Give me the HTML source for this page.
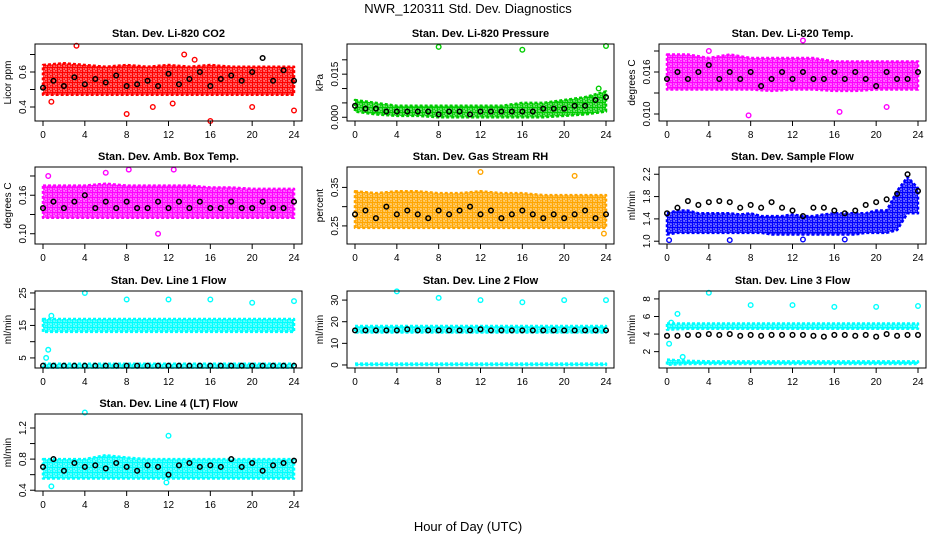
<!DOCTYPE html>
<html><head><meta charset="utf-8"><style>
body{margin:0;background:#fff}
svg{display:block;font-family:"Liberation Sans",sans-serif}
</style></head><body>
<svg id="c" width="936" height="540" viewBox="0 0 936 540">
<defs id="defs"></defs>
<text x="468" y="13" text-anchor="middle" font-size="13">NWR_120311  Std. Dev. Diagnostics</text>
<text x="468" y="531" text-anchor="middle" font-size="13">Hour of Day (UTC)</text>
</svg>
<script>
const xTicks=[0,4,8,12,16,20,24];
// CO2
const co2Lo=[0.47,0.47,0.47,0.47,0.47,0.47,0.47,0.47,0.47,0.47,0.47,0.47,0.47];
const co2Hi=[0.64,0.65,0.64,0.63,0.64,0.63,0.64,0.63,0.64,0.63,0.63,0.63,0.63];
const co2Black=[0.51,0.55,0.52,0.57,0.53,0.56,0.54,0.58,0.52,0.53,0.55,0.52,0.59,0.53,0.56,0.6,0.52,0.56,0.58,0.55,0.6,0.68,0.55,0.61,0.55];
const co2Out=[[3.2,0.75],[0.8,0.43],[8,0.36],[16,0.32],[24,0.38],[13.5,0.7],[10.5,0.4],[20,0.4],[12.4,0.42],[14.5,0.67]];
// Pressure
const prLo=[0.002,0.001,0.0005,0.0005,0,0,0,0,0,0,0.0005,0.001,0.002];
const prHi=[0.006,0.005,0.004,0.004,0.004,0.004,0.004,0.004,0.005,0.005,0.006,0.007,0.009];
const prBlack=[0.004,0.003,0.003,0.002,0.002,0.002,0.002,0.002,0.001,0.002,0.002,0.001,0.002,0.002,0.002,0.002,0.002,0.002,0.003,0.003,0.003,0.004,0.004,0.006,0.007];
const prOut=[[8,0.0245],[16,0.0235],[24,0.0248],[23.3,0.01]];
// Temp
const tLo=[0.0135,0.0135,0.0135,0.0135,0.0135,0.0133,0.0135,0.0135,0.0133,0.0133,0.0135,0.0135,0.0135];
const tHi=[0.0185,0.0185,0.018,0.0185,0.018,0.018,0.018,0.018,0.0175,0.0175,0.0175,0.0175,0.0175];
const tBlack=[0.015,0.016,0.015,0.016,0.017,0.015,0.016,0.015,0.016,0.014,0.015,0.016,0.015,0.016,0.015,0.015,0.016,0.015,0.016,0.015,0.014,0.016,0.015,0.015,0.016];
const tOut=[[13,0.0205],[7.8,0.0098],[16.5,0.0103],[21,0.011],[4,0.019]];
// Amb box
const aLo=[0.125,0.125,0.125,0.125,0.125,0.125,0.125,0.125,0.125,0.125,0.125,0.125,0.125];
const aHi=[0.175,0.175,0.175,0.178,0.175,0.175,0.175,0.175,0.172,0.172,0.17,0.17,0.17];
const aBlack=[0.14,0.15,0.14,0.15,0.16,0.14,0.15,0.14,0.15,0.14,0.14,0.15,0.14,0.15,0.14,0.15,0.14,0.14,0.15,0.14,0.14,0.15,0.14,0.14,0.15];
const aOut=[[12.5,0.2],[8.2,0.2],[6,0.195],[11,0.1],[0.5,0.19]];
// RH
const rhLo=[0.245,0.245,0.245,0.245,0.245,0.245,0.245,0.245,0.245,0.245,0.245,0.245,0.245];
const rhHi=[0.34,0.335,0.34,0.34,0.335,0.335,0.34,0.335,0.335,0.33,0.33,0.33,0.33];
const rhBlack=[0.28,0.29,0.27,0.3,0.28,0.29,0.28,0.27,0.29,0.28,0.29,0.3,0.28,0.29,0.27,0.28,0.29,0.28,0.27,0.28,0.27,0.28,0.29,0.27,0.28];
const rhOut=[[12,0.39],[21,0.38],[23.8,0.23]];
// Sample flow
const sfLo=[1.12,1.15,1.15,1.15,1.15,1.15,1.15,1.15,1.15,1.15,1.12,1.12,1.12,1.12,1.12,1.12,1.12,1.12,1.12,1.15,1.15,1.15,1.2,1.5,1.5];
const sfHi=[1.5,1.55,1.55,1.5,1.5,1.5,1.5,1.48,1.5,1.45,1.45,1.45,1.48,1.45,1.45,1.48,1.5,1.5,1.5,1.5,1.55,1.55,1.9,2.15,1.95];
const sfBlack=[1.5,1.6,1.72,1.65,1.7,1.72,1.7,1.6,1.65,1.6,1.7,1.6,1.55,1.45,1.6,1.6,1.55,1.5,1.55,1.65,1.7,1.75,1.85,2.2,1.9];
const sfOut=[[0.2,1.02],[6,1.02],[13,1.03],[17,1.03]];
// Line 1
const l1LoA=[13,13,13,13,13,13,13,13,13,13,13,13,13];
const l1HiA=[17,17,17,17,17,17,17,17,17,17,17,17,17];
const l1LoB=[2,2,2,2,2,2,2,2,2,2,2,2,2];
const l1HiB=[3.2,3.2,3.2,3.2,3.2,3.2,3.2,3.2,3.2,3.2,3.2,3.2,3.2];
const l1Black=[2.6,2.6,2.6,2.6,2.6,2.6,2.6,2.6,2.6,2.6,2.6,2.6,2.6,2.6,2.6,2.6,2.6,2.6,2.6,2.6,2.6,2.6,2.6,2.6,2.6];
const l1Out=[[4,25],[8,23],[12,23],[16,23],[20,22],[24,22.5],[0.3,5],[0.5,7.5],[0.8,18]];
// Line 2
const l2LoA=[15,15,15,15,15,15,15,15,15,15,15,15,15];
const l2HiA=[18,18,18,18,18,18,18,18,18,18,18,18,18];
const l2LoB=[0,0,0,0,0,0,0,0,0,0,0,0,0];
const l2HiB=[0.6,0.6,0.6,0.6,0.6,0.6,0.6,0.6,0.6,0.6,0.6,0.6,0.6];
const l2Black=[16,16,16,16,16,16.5,16,16,16,16,16,16,16.5,16,16,16,16,16,16,16,16,16,16,16,16];
const l2Out=[[4,34],[8,31],[12,30],[16,29],[20,30],[24,30]];
// Line 3
const l3LoA=[4.5,4.6,4.6,4.6,4.6,4.6,4.6,4.6,4.6,4.6,4.6,4.6,4.6];
const l3HiA=[5.2,5.2,5.2,5.2,5.2,5.2,5.2,5.2,5.2,5.2,5.2,5.2,5.2];
const l3LoB=[0.5,0.6,0.6,0.6,0.6,0.6,0.6,0.6,0.6,0.6,0.6,0.6,0.6];
const l3HiB=[1.1,0.95,0.9,0.9,0.9,0.9,0.9,0.9,0.9,0.9,0.9,0.9,0.9];
const l3Black=[3.8,3.8,3.9,3.9,4,3.9,4,3.8,3.9,3.8,3.9,3.9,3.9,3.9,3.8,3.7,3.9,3.9,3.8,3.9,3.7,4,3.8,3.9,3.9];
const l3Out=[[4,8.7],[8,7.3],[12,7.3],[16,7.1],[20,7.1],[24,7.2],[1,6.3],[0.4,5.3],[0.2,2.9],[1.5,1.4]];
// Line 4
const l4Lo=[0.55,0.55,0.55,0.55,0.55,0.55,0.55,0.55,0.55,0.55,0.55,0.55,0.55];
const l4Hi=[0.8,0.8,0.8,0.85,0.82,0.8,0.8,0.8,0.8,0.8,0.8,0.8,0.8];
const l4Black=[0.7,0.8,0.65,0.75,0.7,0.72,0.68,0.75,0.7,0.65,0.72,0.7,0.6,0.72,0.75,0.7,0.72,0.7,0.8,0.7,0.75,0.65,0.72,0.75,0.78];
const l4Out=[[4,1.4],[12,1.1],[0.8,0.45],[11.8,0.5]];

const panels=[
 {t:"Stan. Dev. Li-820 CO2",yl:"Licor ppm",c:0,r:0,y0:0.32,y1:0.76,ticks:[0.4,0.5,0.6,0.7],labs:["0.4","","0.6",""],col:"#ff0000",bands:[[co2Lo,co2Hi]],black:co2Black,out:co2Out},
 {t:"Stan. Dev. Li-820 Pressure",yl:"kPa",c:1,r:0,y0:-0.0013,y1:0.0255,ticks:[0,0.005,0.01,0.015,0.02],labs:["0.000","","","0.015",""],col:"#00cc00",bands:[[prLo,prHi]],black:prBlack,out:prOut},
 {t:"Stan. Dev. Li-820 Temp.",yl:"degrees C",c:2,r:0,y0:0.009,y1:0.020,ticks:[0.01,0.013,0.016,0.019],labs:["0.010","","0.016",""],col:"#ff00ff",bands:[[tLo,tHi]],black:tBlack,out:tOut},
 {t:"Stan. Dev. Amb. Box Temp.",yl:"degrees C",c:0,r:1,y0:0.084,y1:0.204,ticks:[0.1,0.13,0.16,0.19],labs:["0.10","","0.16",""],col:"#ff00ff",bands:[[aLo,aHi]],black:aBlack,out:aOut},
 {t:"Stan. Dev. Gas Stream RH",yl:"percent",c:1,r:1,y0:0.203,y1:0.403,ticks:[0.25,0.3,0.35],labs:["0.25","","0.35"],col:"#ffa500",bands:[[rhLo,rhHi]],black:rhBlack,out:rhOut},
 {t:"Stan. Dev. Sample Flow",yl:"ml/min",c:2,r:1,y0:0.95,y1:2.33,ticks:[1.0,1.4,1.8,2.2],labs:["1.0","1.4","1.8","2.2"],col:"#0000ff",bands:[[sfLo,sfHi]],black:sfBlack,out:sfOut},
 {t:"Stan. Dev. Line 1 Flow",yl:"ml/min",c:0,r:2,y0:1.9,y1:25.6,ticks:[5,10,15,20,25],labs:["5","","15","","25"],col:"#00ffff",bands:[[l1LoA,l1HiA],[l1LoB,l1HiB]],black:l1Black,out:l1Out},
 {t:"Stan. Dev. Line 2 Flow",yl:"ml/min",c:1,r:2,y0:-1.4,y1:34.2,ticks:[0,10,20,30],labs:["0","10","20","30"],col:"#00ffff",bands:[[l2LoA,l2HiA],[l2LoB,l2HiB]],black:l2Black,out:l2Out},
 {t:"Stan. Dev. Line 3 Flow",yl:"ml/min",c:2,r:2,y0:0.14,y1:8.9,ticks:[2,4,6,8],labs:["2","4","6","8"],col:"#00ffff",bands:[[l3LoA,l3HiA],[l3LoB,l3HiB]],black:l3Black,out:l3Out},
 {t:"Stan. Dev. Line 4 (LT) Flow",yl:"ml/min",c:0,r:3,y0:0.39,y1:1.38,ticks:[0.4,0.6,0.8,1.0,1.2],labs:["0.4","","0.8","","1.2"],col:"#00ffff",bands:[[l4Lo,l4Hi]],black:l4Black,out:l4Out}
];
const colX=[35,347,659],W=267,rowY=[44,167,291,414],H=77;
const svg=document.getElementById('c'),NS="http://www.w3.org/2000/svg";
const defs=document.getElementById('defs');
function mk(tag,a,p){const e=document.createElementNS(NS,tag);for(const k in a)e.setAttribute(k,a[k]);(p||svg).appendChild(e);return e;}
panels.forEach((p,i)=>{
 const pat=mk('pattern',{id:'ring'+i,width:5,height:5,patternUnits:'userSpaceOnUse'},defs);
 mk('rect',{x:0,y:0,width:5,height:5,fill:p.col,opacity:0.55},pat);
 [[1.25,1.25],[3.75,3.75]].forEach(q=>mk('circle',{cx:q[0],cy:q[1],r:1.4,fill:'none',stroke:p.col,'stroke-width':1.2},pat));
 const L=colX[p.c],T=rowY[p.r];
 const xs=h=>L+8+h/24*(W-16);
 const ys=v=>T+H-(v-p.y0)/(p.y1-p.y0)*H;
 const g=mk('g',{});
 
 
 const tt=mk('text',{x:L+W/2,y:T-7,'text-anchor':'middle','font-size':11,'font-weight':'bold'},g);tt.textContent=p.t;
 
 
 const plot=mk('g',{},g);
 p.bands.forEach(b=>{
  const lo=b[0],hi=b[1],n=lo.length;let pts=[];
  for(let k=0;k<n;k++)pts.push(xs(k*24/(n-1))+','+ys(hi[k]));
  for(let k=n-1;k>=0;k--)pts.push(xs(k*24/(n-1))+','+ys(lo[k]));
  const pg=mk('polygon',{points:pts.join(' '),fill:'url(#ring'+i+')',stroke:p.col,'stroke-width':2.5,'stroke-dasharray':'3 2','stroke-linejoin':'round'},plot);
  
  
 });
 p.out.forEach(o=>{const c=mk('circle',{cx:xs(o[0]),cy:ys(o[1]),r:2.3,fill:'none',stroke:p.col,'stroke-width':1.4},plot);
  
  });
 p.black.forEach((v,k)=>{const c=mk('circle',{cx:xs(k*24/(p.black.length-1)),cy:ys(v),r:2.3,fill:'none',stroke:'#000','stroke-width':1.5},plot);
  
  });
 const box=mk('rect',{x:L,y:T,width:W,height:H,fill:'none',stroke:'#000','stroke-width':1},g);
 
 
 xTicks.forEach(t=>{const x=xs(t);mk('line',{x1:x,x2:x,y1:T+H,y2:T+H+5,stroke:'#000'},g);
  const tx=mk('text',{x:x,y:T+H+17,'text-anchor':'middle','font-size':10},g);tx.textContent=t;
  
  });
 p.ticks.forEach((t,k)=>{const y=ys(t);mk('line',{x1:L-5,x2:L,y1:y,y2:y,stroke:'#000'},g);
  if(p.labs[k]){const ty=mk('text',{x:L-9,y:y,'text-anchor':'middle','font-size':10,transform:`rotate(-90 ${L-9} ${y})`},g);ty.textContent=p.labs[k];
  
  }});
 const yt=mk('text',{x:L-24,y:T+H/2,'text-anchor':'middle','font-size':10,transform:`rotate(-90 ${L-24} ${T+H/2})`},g);yt.textContent=p.yl;
 
 
});
</script>
</body></html>
